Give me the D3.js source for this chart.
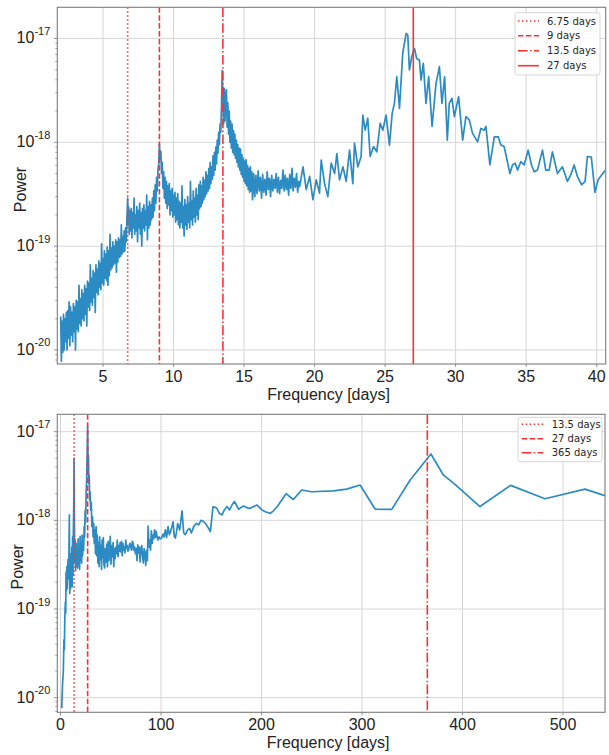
<!DOCTYPE html>
<html><head><meta charset="utf-8">
<script src="https://cdn.jsdelivr.net/npm/d3@7/dist/d3.min.js"></script>
<style>
body{margin:0;background:#fff;}
svg{display:block;}
</style></head><body>
<svg id="chart" width="609" height="755"></svg>
<script>
// ---------- DATA (period in days, power) ----------
const topSpecLow = [
[2.00,2.1e-20],[2.05,7.8e-21],[2.10,1.9e-20],[2.15,9.5e-21],[2.20,2.2e-20],[2.25,1.0e-20],[2.30,2.0e-20],[2.35,1.2e-20],
[2.40,2.3e-20],[2.45,1.0e-20],[2.50,2.4e-20],[2.55,1.3e-20],[2.60,2.9e-20],[2.65,1.1e-20],[2.70,2.6e-20],[2.75,1.4e-20],
[2.80,2.3e-20],[2.85,1.2e-20],[2.90,2.8e-20],[2.95,1.5e-20],[3.00,2.6e-20],[3.05,1.0e-20],[3.10,3.0e-20],[3.15,1.6e-20],
[3.20,2.9e-20],[3.25,1.5e-20],[3.30,4.2e-20],[3.35,1.8e-20],[3.40,3.1e-20],[3.45,1.7e-20],[3.50,3.8e-20],[3.55,2.0e-20],
[3.60,3.5e-20],[3.65,1.9e-20],[3.70,4.2e-20],[3.75,2.2e-20],[3.80,3.9e-20],[3.85,1.7e-20],[3.90,4.6e-20],[3.95,2.6e-20],
[4.00,4.4e-20],[4.05,2.4e-20],[4.10,6.6e-20],[4.15,2.9e-20],[4.20,4.9e-20],[4.25,2.7e-20],[4.30,5.8e-20],[4.35,3.2e-20],
[4.40,5.5e-20],[4.45,2.3e-20],[4.50,6.6e-20],[4.55,3.6e-20],[4.60,6.0e-20],[4.65,3.4e-20],[4.70,7.2e-20],[4.75,4.0e-20],
[4.80,6.8e-20],[4.85,3.8e-20],[4.90,1.05e-19],[4.95,4.4e-20],[5.00,7.6e-20],[5.05,4.2e-20],[5.10,9.0e-20],[5.15,4.9e-20],
[5.20,8.4e-20],[5.25,4.7e-20],[5.30,9.8e-20],[5.35,4.2e-20],[5.40,9.0e-20],[5.45,5.2e-20],[5.50,1.3e-19],[5.55,5.9e-20],
[5.60,9.6e-20],[5.65,6.2e-20],[5.70,1.1e-19],[5.75,6.6e-20],[5.80,1.0e-19],[5.85,6.9e-20],[5.90,1.15e-19],[5.95,5.6e-20],
[6.00,1.1e-19],[6.05,7.0e-20],[6.10,1.2e-19],[6.15,7.8e-20],[6.20,1.15e-19],[6.25,8.0e-20],[6.30,1.6e-19],[6.35,8.4e-20],
[6.40,1.25e-19],[6.45,8.8e-20],[6.50,1.4e-19],[6.55,9.0e-20],[6.60,1.5e-19],[6.65,1.1e-19],[6.70,1.9e-19],[6.75,2.9e-19],
[6.78,1.6e-19]
];
const topSpecMid = [
[6.82,2.4e-19],[6.86,1.3e-19],[6.90,2.2e-19],[6.95,1.4e-19],[7.00,2.3e-19],[7.05,1.2e-19],[7.10,2.1e-19],[7.15,1.5e-19],
[7.20,2.9e-19],[7.25,1.3e-19],[7.30,2.0e-19],[7.35,1.4e-19],[7.40,2.4e-19],[7.45,1.1e-19],[7.50,2.2e-19],[7.55,1.5e-19],
[7.60,2.6e-19],[7.65,1.3e-19],[7.70,2.1e-19],[7.75,1.0e-19],[7.80,2.3e-19],[7.85,1.5e-19],[7.90,2.5e-19],[7.95,1.4e-19],
[8.00,2.2e-19],[8.05,1.6e-19],[8.10,3.1e-19],[8.15,1.15e-19],[8.20,2.4e-19],[8.25,1.5e-19],[8.30,2.7e-19],[8.35,1.6e-19],
[8.40,2.5e-19],[8.45,1.8e-19],[8.50,2.9e-19],[8.55,1.9e-19],[8.60,3.4e-19],[8.65,2.2e-19],[8.70,3.9e-19],[8.75,2.6e-19],
[8.80,4.6e-19],[8.85,3.4e-19],[8.90,5.5e-19],[8.95,6.2e-19],[9.00,9.6e-19],[9.05,6.8e-19],[9.10,8.2e-19],[9.15,5.0e-19],
[9.20,6.4e-19],[9.25,3.6e-19],[9.30,5.2e-19],[9.35,2.9e-19],[9.40,4.6e-19],[9.45,2.6e-19],[9.50,4.2e-19],[9.55,2.3e-19],
[9.60,3.8e-19],[9.65,2.5e-19],[9.70,4.0e-19],[9.75,2.0e-19],[9.80,3.4e-19],[9.85,2.2e-19],[9.90,3.6e-19],[9.95,1.9e-19],
[10.00,3.1e-19],[10.05,2.0e-19],[10.10,3.3e-19],[10.15,1.7e-19],[10.20,2.9e-19],[10.25,1.8e-19],[10.30,3.2e-19],[10.35,1.6e-19],
[10.40,2.7e-19],[10.45,1.5e-19],[10.50,2.6e-19],[10.55,1.7e-19],[10.60,3.8e-19],[10.65,1.5e-19],[10.70,2.4e-19],[10.75,1.25e-19],
[10.80,2.8e-19],[10.85,1.6e-19],[10.90,2.5e-19],[10.95,1.45e-19],[11.00,3.0e-19],[11.05,1.7e-19],[11.10,2.6e-19],[11.15,1.5e-19],
[11.20,4.2e-19],[11.25,1.8e-19],[11.30,2.7e-19],[11.35,1.6e-19],[11.40,3.4e-19],[11.45,1.9e-19],[11.50,2.9e-19],[11.55,1.7e-19],
[11.60,3.6e-19],[11.65,2.0e-19],[11.70,3.1e-19],[11.75,1.8e-19],[11.80,3.9e-19],[11.85,2.3e-19],[11.90,4.2e-19],[11.95,2.4e-19],
[12.00,3.8e-19],[12.05,2.6e-19],[12.10,4.6e-19],[12.15,2.8e-19],[12.20,4.3e-19],[12.25,3.0e-19],[12.30,5.2e-19],[12.35,3.2e-19],
[12.40,4.8e-19],[12.45,3.4e-19],[12.50,5.6e-19],[12.55,3.6e-19],[12.60,6.4e-19],[12.65,4.0e-19],[12.70,5.8e-19],[12.75,4.4e-19],
[12.80,7.4e-19],[12.85,4.8e-19],[12.90,8.0e-19],[12.95,5.4e-19],[13.00,9.0e-19],[13.05,6.2e-19],[13.10,1.05e-18],[13.15,7.8e-19],
[13.20,1.25e-18],[13.25,9.5e-19],[13.30,1.5e-18],[13.35,1.25e-18],[13.40,2.2e-18],[13.45,4.9e-18],[13.50,2.6e-18]
];
const topSpecHigh = [
[13.55,1.5e-18],[13.60,3.3e-18],[13.65,1.6e-18],[13.70,2.8e-18],[13.75,3.2e-18],[13.80,1.4e-18],[13.85,2.4e-18],[13.90,1.2e-18],
[13.95,2.0e-18],[14.00,1.0e-18],[14.05,1.6e-18],[14.10,8.8e-19],[14.15,1.5e-18],[14.20,8.0e-19],[14.25,1.3e-18],[14.30,7.6e-19],
[14.35,1.2e-18],[14.40,7.0e-19],[14.45,1.05e-18],[14.50,6.4e-19],[14.55,9.5e-19],[14.60,5.8e-19],[14.65,8.8e-19],[14.70,5.4e-19],
[14.75,8.6e-19],[14.80,4.9e-19],[14.85,7.6e-19],[14.90,4.6e-19],[14.95,7.0e-19],[15.00,4.2e-19],[15.05,6.6e-19],[15.10,4.0e-19],
[15.15,6.8e-19],[15.20,3.8e-19],[15.25,6.0e-19],[15.30,3.5e-19],[15.35,5.6e-19],[15.40,3.3e-19],[15.45,5.8e-19],[15.50,3.4e-19],
[15.55,5.2e-19],[15.60,2.8e-19],[15.68,5.0e-19],[15.76,3.0e-19],[15.84,4.8e-19],[15.92,3.2e-19],[16.00,5.3e-19],[16.08,3.4e-19],
[16.16,4.6e-19],[16.24,2.9e-19],[16.32,4.9e-19],[16.40,3.3e-19],[16.48,4.4e-19],[16.56,3.1e-19],[16.64,5.2e-19],[16.72,3.5e-19],
[16.80,4.5e-19],[16.88,3.0e-19],[16.96,4.8e-19],[17.04,3.4e-19],[17.12,4.4e-19],[17.20,3.6e-19],[17.28,5.0e-19],[17.36,3.3e-19],
[17.44,4.6e-19],[17.52,3.2e-19],[17.60,4.3e-19],[17.68,3.6e-19],[17.76,5.4e-19],[17.84,3.4e-19],[17.92,4.8e-19],[18.00,3.5e-19],
[18.08,4.5e-19],[18.16,3.1e-19],[18.24,4.9e-19],[18.32,3.6e-19],[18.40,5.6e-19],[18.48,3.4e-19],[18.56,4.5e-19],[18.64,3.7e-19],
[18.72,5.0e-19],[18.80,3.3e-19],[18.88,4.2e-19]
];
const topSpecTail = [
[18.94,3.75e-19],[19.18,5.8e-19],[19.41,3.5e-19],[19.65,4.7e-19],[19.88,2.8e-19],[20.12,4.35e-19],[20.35,3.24e-19],[20.47,6.75e-19],
[20.71,4.0e-19],[20.94,3.0e-19],[21.18,6.3e-19],[21.42,5.0e-19],[21.58,7.8e-19],[21.77,4.35e-19],[22.01,5.8e-19],[22.24,4.2e-19],
[22.48,8.4e-19],[22.71,4.0e-19],[22.83,9.8e-19],[23.07,5.8e-19],[23.30,7.3e-19],[23.42,1.83e-18],[23.59,1.31e-18],[23.77,1.70e-18],
[23.94,7.3e-19],[24.18,9.1e-19],[24.41,8.1e-19],[24.65,1.52e-18],[24.84,1.31e-18],[25.07,1.83e-18],[25.31,9.4e-19],[25.50,1.90e-18],
[25.66,2.37e-18],[25.83,4.28e-18],[26.02,2.12e-18],[26.25,7.2e-18],[26.49,1.117e-17],[26.61,1.076e-17],[26.72,4.97e-18],[26.89,6.7e-18],
[27.08,8.0e-18],[27.24,6.4e-18],[27.43,6.2e-18],[27.55,3.97e-18],[27.71,5.75e-18],[27.90,2.37e-18],[28.09,4.28e-18],[28.33,1.42e-18],
[28.61,3.69e-18],[28.85,5.35e-18],[29.03,2.37e-18],[29.22,4.28e-18],[29.41,1.05e-18],[29.55,2.37e-18],[29.74,2.65e-18],[29.91,1.77e-18],
[30.21,2.75e-18],[30.50,1.05e-18],[30.73,1.77e-18],[30.97,1.64e-18],[31.20,1.22e-18],[31.56,1.01e-18],[31.79,1.36e-18],[32.03,1.31e-18],
[32.15,1.42e-18],[32.43,6.05e-19],[32.74,1.13e-18],[33.02,1.13e-18],[33.21,9.4e-19],[33.44,9.1e-19],[33.85,5.0e-19],[34.03,6.05e-19],
[34.22,6.3e-19],[34.39,5.4e-19],[34.62,6.5e-19],[34.86,6.05e-19],[35.14,8.4e-19],[35.38,6.05e-19],[35.57,5.2e-19],[35.80,5.4e-19],
[36.16,8.4e-19],[36.39,5.4e-19],[36.63,5.4e-19],[36.86,8.1e-19],[37.22,5.0e-19],[37.57,5.8e-19],[37.93,4.2e-19],[38.16,4.85e-19],
[38.40,6.05e-19],[38.63,4.7e-19],[38.94,3.9e-19],[39.18,4.2e-19],[39.34,7.3e-19],[39.62,7.2e-19],[39.88,3.3e-19],[40.10,4.35e-19],
[40.60,5.35e-19]
];
const botSpecLow = [
[1.2,7.6e-21],[2.0,1.4e-20],[2.8,2.0e-20],[3.4,4.5e-20],[3.8,3.5e-20],[4.3,8.0e-20],[4.8,1.2e-19],[5.2,9.0e-20],
[5.5,2.6e-19],[5.9,1.6e-19],[6.3,3.0e-19],[6.7,1.7e-19],[7.1,2.8e-19],[7.5,3.6e-19],[7.9,2.2e-19],[8.3,3.2e-19],
[8.8,1.15e-18],[9.2,1.5e-19],[9.6,4.2e-19],[10.0,1.7e-19],[10.4,3.8e-19],[10.8,2.0e-19],[11.2,5.0e-19],[11.6,1.8e-19],
[12.0,6.5e-19],[12.4,2.4e-19],[12.8,8.0e-19],[13.2,1.5e-18],[13.5,5.0e-18],[13.8,1.1e-18],[14.2,3.4e-19],[14.6,6.0e-19],
[15.0,2.7e-19],[15.5,5.5e-19],[16.0,3.0e-19],[16.5,4.8e-19],[17.0,2.9e-19],[17.5,6.2e-19],[18.0,3.2e-19],[18.5,5.0e-19],
[19.0,2.8e-19],[19.5,6.6e-19],[20.0,3.5e-19],[20.5,5.4e-19],[21.0,3.3e-19],[21.5,6.8e-19],[22.0,4.0e-19],[22.5,6.0e-19],
[23.0,4.6e-19],[23.5,8.5e-19],[24.0,6.5e-19],[24.5,1.3e-18],[25.0,9.5e-19],[25.5,2.0e-18],[26.0,2.8e-18],[26.5,5.5e-18],
[27.0,1.14e-17],[27.4,4.5e-18],[27.8,5.4e-18],[28.2,2.6e-18],[28.6,3.2e-18],[29.0,1.7e-18],[29.5,2.1e-18],[30.0,1.3e-18],
[30.6,1.6e-18],[31.2,8.5e-19],[31.8,1.1e-18],[32.4,6.5e-19],[33.0,9.2e-19],[33.6,5.5e-19],[34.2,7.8e-19],[34.8,4.2e-19],
[35.4,8.5e-19],[36.0,4.0e-19],[36.6,6.8e-19],[37.2,3.3e-19],[37.8,5.6e-19],[38.4,3.0e-19],[39.0,6.5e-19],[39.6,3.6e-19],
[40.2,5.2e-19],[40.8,2.8e-19],[41.4,6.0e-19],[42.0,3.8e-19],[42.6,6.4e-19],[43.2,3.2e-19],[43.9,2.9e-19],[44.6,4.8e-19],
[45.3,3.4e-19],[46.0,5.4e-19],[46.7,3.0e-19],[47.4,5.8e-19],[48.1,3.5e-19],[48.8,4.6e-19],[49.5,6.6e-19],[50.2,3.2e-19],
[50.9,5.2e-19],[51.6,3.9e-19],[52.3,5.6e-19],[53.0,3.0e-19],[53.7,4.8e-19],[54.4,3.7e-19],[55.1,5.0e-19],[55.8,4.2e-19],
[56.5,6.0e-19],[57.2,3.9e-19],[57.9,5.2e-19],[58.6,4.5e-19],[59.3,5.6e-19],[60.0,4.4e-19],[60.7,5.8e-19],[61.4,4.0e-19],
[62.1,5.5e-19],[62.8,4.6e-19],[63.5,5.0e-19],[64.2,4.3e-19],[64.9,6.0e-19],[65.6,4.9e-19],[66.3,5.2e-19],[67.0,4.5e-19],
[67.8,4.6e-19],[68.5,5.3e-19],[69.3,5.5e-19],[70.0,4.9e-19],[70.8,4.6e-19],[71.5,5.8e-19],[72.3,5.5e-19],[73.0,4.6e-19],
[73.8,5.0e-19],[74.5,4.2e-19],[75.3,4.8e-19],[76.1,3.5e-19],[76.8,5.3e-19],[77.6,4.3e-19],[78.4,5.0e-19],[79.2,3.4e-19],
[80.0,4.7e-19],[80.8,5.2e-19],[81.6,4.0e-19],[82.4,3.3e-19],[83.2,4.8e-19],[84.0,4.2e-19],[84.8,3.1e-19],[85.6,4.6e-19],
[86.4,3.5e-19],[87.2,8.6e-19],[88.0,5.0e-19],[88.8,6.0e-19],[89.6,4.6e-19],[90.4,7.6e-19],[91.2,5.5e-19],[92.0,6.8e-19],
[92.8,6.2e-19],[93.6,7.8e-19],[94.4,6.4e-19],[95.2,7.5e-19],[96.0,6.6e-19],[97.0,6.0e-19],[98.0,6.5e-19],[99.3,6.2e-19]
];
const botSpecHigh = [
[100.5,6.3e-19],[102.0,7.0e-19],[103.0,6.5e-19],[104.3,7.8e-19],[105.5,6.4e-19],[107.0,8.5e-19],[108.3,6.9e-19],[110.0,7.8e-19],
[112.0,9.6e-19],[113.2,6.6e-19],[114.3,6.3e-19],[115.5,7.5e-19],[116.6,9.2e-19],[118.6,7.8e-19],[120.9,1.28e-18],[122.6,7.2e-19],
[124.2,6.9e-19],[126.5,7.8e-19],[128.5,8.1e-19],[130.2,7.2e-19],[132.5,8.5e-19],[135.2,9.25e-19],[137.5,8.9e-19],[139.8,1.0e-18],
[142.4,9.7e-19],[145.1,8.9e-19],[147.4,8.1e-19],[149.1,7.45e-19],[151.7,1.42e-18],[154.0,1.40e-18],[155.7,1.36e-18],[158.0,1.2e-18],
[160.7,1.15e-18],[163.0,1.31e-18],[165.7,1.43e-18],[168.3,1.31e-18],[170.6,1.49e-18],[173.0,1.63e-18],[175.0,1.49e-18],[177.3,1.33e-18],
[179.6,1.40e-18],[182.3,1.45e-18],[184.9,1.40e-18],[188.2,1.36e-18],[192.2,1.43e-18],[195.5,1.49e-18],[197.9,1.40e-18],[200.5,1.31e-18],
[203.8,1.25e-18],[208.8,1.20e-18],[212.1,1.29e-18],[216.1,1.45e-18],[224.4,2.0e-18],[231.7,1.72e-18],[240.0,2.2e-18],[249.9,2.1e-18],
[271.5,2.15e-18],[284.8,2.25e-18],[298.1,2.5e-18],[313.0,1.34e-18],[329.6,1.33e-18],[347.9,2.85e-18],[368.6,5.6e-18],[380.9,3.25e-18],
[392.5,2.55e-18],[417.4,1.43e-18],[447.9,2.48e-18],[482.1,1.75e-18],[521.9,2.25e-18],[541.8,1.9e-18]
];

const topXTicks = [5, 10, 15, 20, 25, 30, 35, 40];
const botXTicks = [0, 100, 200, 300, 400, 500];
const yTickExps = [-20, -19, -18, -17];
const topMarkerPeriods = [6.75, 9, 13.5, 27];
const topMarkerLabels = ["6.75 days", "9 days", "13.5 days", "27 days"];
const botMarkerPeriods = [13.5, 27, 365];
const botMarkerLabels = ["13.5 days", "27 days", "365 days"];

// ---------- STYLE ----------
const BLUE = "#2d8bc3";
const RED = "#ff2f2f";
const DASH = {
  dotted: "1.5,2.5",
  dashed: "5.5,2.4",
  dashdot: "9.6,2.4,1.5,2.4",
  solid: null
};
const topMarkerStyles = ["dotted", "dashed", "dashdot", "solid"];
const botMarkerStyles = ["dotted", "dashed", "dashdot"];
const FONT = "'Liberation Sans',Arial,sans-serif";
const LEGFONT = "'DejaVu Sans',sans-serif";

const svg = d3.select("#chart");

function panel(cfg) {
  const {id, left, right, top, bottom, xDomain, yDomain, xTicks, series, markers, markerLabels, markerStyles, legend} = cfg;
  const x = d3.scaleLinear().domain(xDomain).range([left, right]);
  const y = d3.scaleLog().domain(yDomain).range([bottom, top]);
  const g = svg.append("g");

  svg.append("clipPath").attr("id", id).append("rect")
    .attr("x", left).attr("y", top).attr("width", right - left).attr("height", bottom - top);

  // grid
  g.selectAll(".gx").data(xTicks).enter().append("line")
    .attr("x1", d => x(d)).attr("x2", d => x(d)).attr("y1", top).attr("y2", bottom)
    .attr("stroke", "#d6d6d6").attr("stroke-width", 1);
  g.selectAll(".gy").data(yTickExps).enter().append("line")
    .attr("x1", left).attr("x2", right).attr("y1", d => y(Math.pow(10, d))).attr("y2", d => y(Math.pow(10, d)))
    .attr("stroke", "#d6d6d6").attr("stroke-width", 1);

  // minor y ticks
  const minor = [];
  for (let e = -21; e <= -17; e++) for (let m = 2; m <= 9; m++) {
    const v = m * Math.pow(10, e);
    if (v > yDomain[0] && v < yDomain[1]) minor.push(v);
  }
  g.selectAll(".my").data(minor).enter().append("line")
    .attr("x1", left - 2).attr("x2", left).attr("y1", d => y(d)).attr("y2", d => y(d))
    .attr("stroke", "#777").attr("stroke-width", 0.7);
  g.selectAll(".ty").data(yTickExps).enter().append("line")
    .attr("x1", left - 3.5).attr("x2", left).attr("y1", d => y(Math.pow(10, d))).attr("y2", d => y(Math.pow(10, d)))
    .attr("stroke", "#777").attr("stroke-width", 0.8);
  g.selectAll(".tx").data(xTicks).enter().append("line")
    .attr("x1", d => x(d)).attr("x2", d => x(d)).attr("y1", bottom).attr("y2", bottom + 3)
    .attr("stroke", "#777").attr("stroke-width", 0.8);

  const inner = g.append("g").attr("clip-path", `url(#${id})`);

  // spectrum line
  const line = d3.line().x(d => x(d[0])).y(d => y(d[1]));
  inner.append("path").datum(series).attr("d", line)
    .attr("fill", "none").attr("stroke", BLUE).attr("stroke-width", 1.7).attr("stroke-linejoin", "round");

  // marker lines
  markers.forEach((p, i) => {
    inner.append("line").attr("x1", x(p)).attr("x2", x(p)).attr("y1", top).attr("y2", bottom)
      .attr("stroke", RED).attr("stroke-width", 1.6)
      .attr("stroke-dasharray", DASH[markerStyles[i]]);
  });

  // frame
  g.append("rect").attr("x", left).attr("y", top).attr("width", right - left).attr("height", bottom - top)
    .attr("fill", "none").attr("stroke", "#7d7d7d").attr("stroke-width", 1.1);

  // x tick labels
  g.selectAll(".xl").data(xTicks).enter().append("text")
    .attr("x", d => x(d)).attr("y", bottom + 17.8).attr("text-anchor", "middle")
    .attr("font-family", FONT).attr("font-size", 16).attr("fill", "#222").text(d => d);

  // y tick labels
  yTickExps.forEach(e => {
    const t = g.append("text").attr("x", left - 7).attr("y", y(Math.pow(10, e)) + 5)
      .attr("text-anchor", "end").attr("font-family", FONT).attr("fill", "#222");
    t.append("tspan").attr("font-size", 16).text("10");
    t.append("tspan").attr("font-size", 11).attr("dy", -8.5).text(String(e));
  });

  // axis labels
  g.append("text").attr("x", (left + right) / 2 - 3).attr("y", bottom + 35.8).attr("text-anchor", "middle")
    .attr("font-family", FONT).attr("font-size", 16).attr("fill", "#222").text("Frequency [days]");
  g.append("text").attr("transform", `translate(${cfg.ylabX},${cfg.ylabY}) rotate(-90)`)
    .attr("text-anchor", "middle").attr("font-family", FONT).attr("font-size", 16).attr("fill", "#222").text("Power");

  // legend
  const L = legend;
  g.append("rect").attr("x", L.x0).attr("y", L.y0).attr("width", L.x1 - L.x0).attr("height", L.y1 - L.y0)
    .attr("rx", 2.5).attr("fill", "#fff").attr("fill-opacity", 0.85).attr("stroke", "#cccccc").attr("stroke-width", 0.8);
  markerLabels.forEach((lab, i) => {
    const yy = L.rows[i];
    g.append("line").attr("x1", L.s0).attr("x2", L.s1).attr("y1", yy).attr("y2", yy)
      .attr("stroke", RED).attr("stroke-width", 1.6).attr("stroke-dasharray", DASH[markerStyles[i]]);
    g.append("text").attr("x", L.tx).attr("y", yy + 3.6).attr("font-family", LEGFONT).attr("font-size", 10)
      .attr("fill", "#262626").text(lab);
  });
}

panel({
  id: "clipTop", left: 57.3, right: 605.7, top: 7.3, bottom: 364,
  xDomain: [1.76, 40.64], yDomain: [Math.pow(10, -20.135), Math.pow(10, -16.70)],
  xTicks: topXTicks,
  series: topSpecLow.concat(topSpecMid, topSpecHigh, topSpecTail),
  markers: topMarkerPeriods, markerLabels: topMarkerLabels, markerStyles: topMarkerStyles,
  ylabX: 26, ylabY: 189.5,
  legend: {x0: 515, x1: 600, y0: 12.7, y1: 75, rows: [21, 35.7, 50.7, 65.7], s0: 518, s1: 539, tx: 547}
});

panel({
  id: "clipBot", left: 57.3, right: 605, top: 414.3, bottom: 712.3,
  xDomain: [-3.2, 541.8], yDomain: [Math.pow(10, -20.165), Math.pow(10, -16.804)],
  xTicks: botXTicks,
  series: botSpecLow.concat(botSpecHigh),
  markers: botMarkerPeriods, markerLabels: botMarkerLabels, markerStyles: botMarkerStyles,
  ylabX: 23, ylabY: 566.8,
  legend: {x0: 518, x1: 602, y0: 417.3, y1: 461.7, rows: [424.3, 438.7, 452.7], s0: 521.7, s1: 543.3, tx: 551.7}
});
</script>
</body></html>
